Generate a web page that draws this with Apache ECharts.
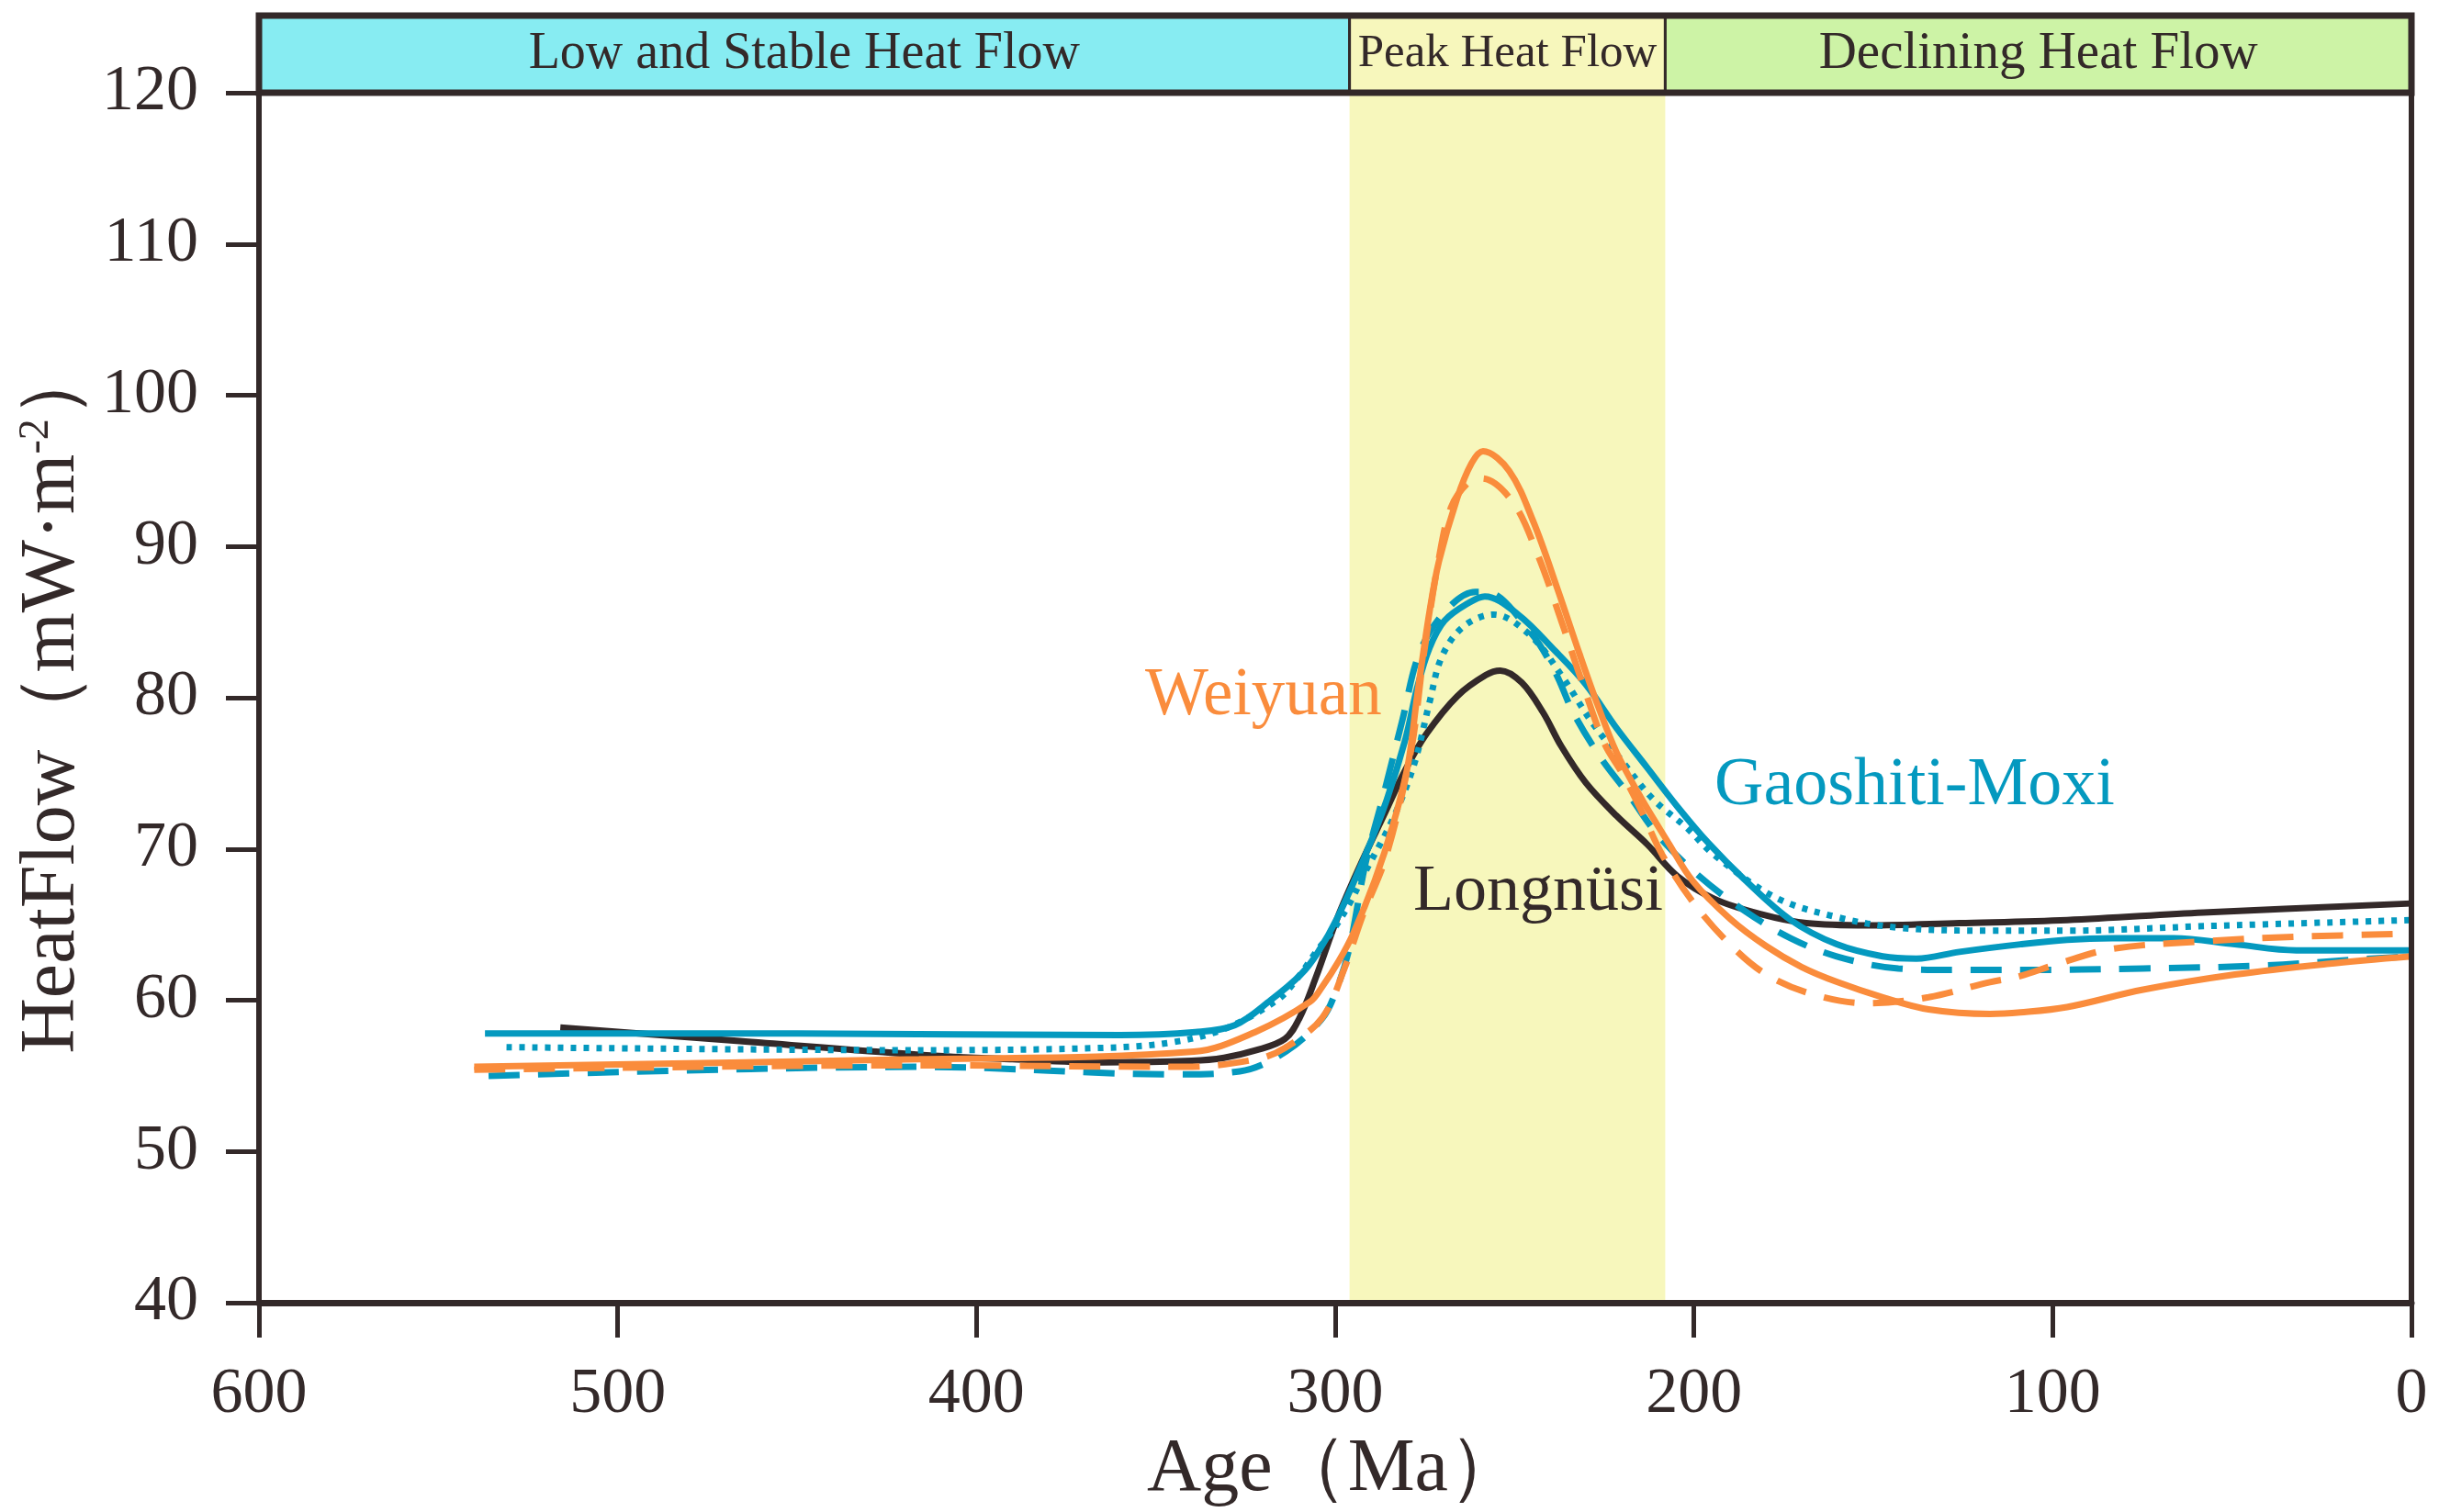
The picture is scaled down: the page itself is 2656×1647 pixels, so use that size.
<!DOCTYPE html>
<html>
<head>
<meta charset="utf-8">
<script src="https://cdn.jsdelivr.net/npm/echarts@6/dist/echarts.min.js"></script>
<style>
html,body{margin:0;padding:0;background:#fff;}
#main{width:2656px;height:1647px;}
</style>
</head>
<body>
<div id="main"></div>
<script>
// age (Ma), heat flow (mW/m2)
var longnusi = [[516,58.2],[466,57.3],[416,56.4],[390,56.1],[365,55.9],[340,56.0],[331,56.2],[322,56.7],[314,57.45],[310,58.8],[305.4,61.5],[299.3,65.5],[292.5,69.2],[286.5,72.2],[280.5,75.2],[274.6,77.6],[266,80.1],[258,81.5],[254,81.8],[248,81.0],[242,79.0],[237,76.8],[230.2,74.4],[221.6,72.2],[213,70.3],[204.6,68.2],[194.3,66.7],[181.5,65.7],[168.7,65.1],[151.6,64.95],[126,65.1],[96,65.3],[58,65.8],[0,66.4]];

var gmSolid = [[537,57.8],[450,57.8],[360,57.7],[339,57.9],[328,58.35],[318,60.0],[309.6,61.7],[305,63.1],[299.3,65.5],[291.6,69.6],[285.7,73.2],[280.5,77.2],[277.1,80.7],[273.7,83.3],[269.5,85.1],[262.6,86.3],[258.3,86.7],[249,85.5],[238.7,83.1],[230.2,80.9],[221.6,78.0],[213.1,75.4],[204.6,72.8],[196,70.4],[186,68.0],[173,65.3],[160.2,63.7],[147.4,62.9],[138,62.75],[126,63.2],[109,63.7],[96,64.0],[83.4,64.1],[66.3,64.1],[49.2,63.7],[32.1,63.3],[0,63.3]];

var gmDashed = [[536,55.0],[416,55.6],[344,55.1],[326.6,55.3],[313.8,56.6],[303.6,58.8],[299.5,60.8],[296,63.5],[291.6,69.0],[286.5,73.6],[281.4,78.4],[276.3,83.1],[268.6,85.9],[260.9,87.0],[258,87.0],[245.5,84.3],[238.7,81.7],[233.6,79.0],[225.9,76.0],[218.2,73.6],[210,70.9],[199,68.3],[185.8,65.9],[173,64.1],[160.2,62.9],[143,62.1],[126,62.0],[109,62.0],[74.8,62.1],[40.7,62.3],[15.1,62.7],[0,62.9]];

var gmDotted = [[531,56.9],[416,56.7],[365,56.85],[346,57.2],[331,58.1],[316,60.05],[310.4,61.5],[305,63.3],[301,64.5],[296,66.4],[291.6,68.5],[283.9,72.0],[278,75.6],[273.7,79.7],[270.3,82.7],[264.3,84.7],[255.8,85.5],[245.5,84.1],[237,81.5],[228.5,78.4],[220,75.8],[211.4,73.3],[202,71.4],[194.3,69.6],[177.3,66.8],[160.2,65.5],[143,64.8],[117.5,64.6],[96,64.6],[57.7,64.9],[0,65.3]];

var wySolid = [[540,55.6],[416,56.1],[339.4,56.6],[322.3,57.9],[307,59.9],[303.6,60.9],[299,62.6],[295,64.4],[289,67.9],[283.9,71.6],[279.7,75.6],[277.1,80.2],[273.7,85.7],[271.1,89.0],[266,93.2],[262,95.5],[258.8,96.3],[251.5,95.0],[244.7,91.6],[237.9,87.1],[231.9,82.9],[226.8,79.5],[221.6,76.4],[214.8,73.4],[207.1,70.4],[200.4,67.9],[190,65.4],[180,63.6],[170,62.2],[160,61.2],[147.4,60.2],[134.6,59.4],[117.5,59.1],[109,59.2],[96,59.55],[74.8,60.7],[49.2,61.7],[23.6,62.4],[0,62.9]];

var wyDashed = [[540,55.4],[416,55.7],[342,55.6],[322,56.1],[314,56.85],[303.6,58.85],[297.6,62.0],[292.5,65.5],[285.7,69.6],[278.8,76.6],[275.4,82.7],[271.1,89.2],[267.7,92.6],[263,94.2],[259.2,94.5],[250.7,93.0],[243.8,89.6],[237,85.1],[231,80.9],[225,77.0],[220,75.0],[214.8,72.6],[208.8,69.6],[200.3,66.5],[190,63.7],[179.8,61.7],[167,60.4],[151.6,59.8],[134.6,60.2],[117.5,61.2],[109,61.6],[98.7,62.4],[83.4,63.4],[57.7,63.9],[32.1,64.2],[0,64.4]];

var stages = [
  ['Low and Stable Heat Flow', 600, 296, '#87ECF2', 56],
  ['Peak Heat Flow', 296, 208, '#F7F7BC', 51],
  ['Declining Heat Flow', 208, 0, '#CDF3A6', 57]
];
var peakBand = [296, 208];

var ink = '#332929';
var teal = '#0499BF';
var orange = '#FA8C3C';
var font = '"Liberation Serif", "Times New Roman", serif';

var chart = echarts.init(document.getElementById('main'));

function line(name, data, color, dash){
  return {
    name: name,
    type: 'line',
    data: data,
    smooth: 0.35,
    symbol: 'none',
    z: 3,
    lineStyle: {color: color, width: 7, type: dash || 'solid', cap: 'butt'}
  };
}

chart.setOption({
  backgroundColor: '#fff',
  animation: false,
  grid: [
    {left: 282, right: 30, top: 101, bottom: 226, show: true, borderColor: ink, borderWidth: 6, z: 10},
    {left: 282, right: 30, top: 17, height: 84, show: true, borderColor: ink, borderWidth: 7, z: 10}
  ],
  xAxis: [{
    type: 'value', min: 0, max: 600, interval: 100, inverse: true, gridIndex: 0,
    name: 'Age（Ma）', nameLocation: 'middle', nameGap: 132,
    nameTextStyle: {fontFamily: font, fontSize: 82, color: ink},
    axisLine: {show: true, onZero: false, lineStyle: {color: ink, width: 7}},
    axisTick: {show: true, inside: false, length: 38, lineStyle: {color: ink, width: 5}},
    axisLabel: {margin: 66, fontFamily: font, fontSize: 70, color: ink},
    splitLine: {show: false}
  }, {
    type: 'value', min: 0, max: 600, inverse: true, gridIndex: 1, show: false
  }],
  yAxis: [{
    type: 'value', min: 40, max: 120, interval: 10, gridIndex: 0,
    name: 'HeatFlow（mW·m{sup|-2}）', nameLocation: 'middle', nameGap: 182, nameRotate: 90,
    nameTextStyle: {fontFamily: font, fontSize: 84, color: ink,
      rich: {sup: {fontFamily: font, fontSize: 46, color: ink, padding: [0, 0, 36, 0]}}},
    axisLine: {show: true, onZero: false, lineStyle: {color: ink, width: 6}},
    axisTick: {show: true, inside: false, length: 36, lineStyle: {color: ink, width: 5}},
    axisLabel: {margin: 66, fontFamily: font, fontSize: 70, color: ink},
    splitLine: {show: false}
  }, {
    type: 'value', min: 0, max: 1, gridIndex: 1, show: false
  }],
  series: [
    {
      name: 'band', type: 'line', data: [], xAxisIndex: 0, yAxisIndex: 0, z: 1,
      markArea: {silent: true, itemStyle: {color: '#F7F7BC'}, data: [[{xAxis: peakBand[0]}, {xAxis: peakBand[1]}]]}
    },
    {
      name: 'stages', type: 'line', data: [], xAxisIndex: 1, yAxisIndex: 1, z: 1,
      markArea: {
        silent: true,
        data: stages.map(function(s){
          return [{
            name: s[0], xAxis: s[1],
            itemStyle: {color: s[3], borderColor: ink, borderWidth: 3},
            label: {position: 'inside', fontFamily: font, fontSize: s[4], color: ink}
          }, {xAxis: s[2]}];
        })
      }
    },
    line('Longnüsi', longnusi, ink),
    line('Gaoshiti-Moxi', gmSolid, teal),
    line('Gaoshiti-Moxi dashed', gmDashed, teal, [34, 20]),
    line('Gaoshiti-Moxi dotted', gmDotted, teal, [6, 8]),
    line('Weiyuan', wySolid, orange),
    line('Weiyuan dashed', wyDashed, orange, [34, 20])
  ],
  graphic: [
    {type: 'text', x: 1247, y: 759, z: 20, style: {text: 'Weiyuan', fill: orange, font: '73px ' + font, verticalAlign: 'middle'}},
    {type: 'text', x: 1867, y: 857, z: 20, style: {text: 'Gaoshiti-Moxi', fill: teal, font: '74px ' + font, verticalAlign: 'middle'}},
    {type: 'text', x: 1539, y: 972, z: 20, style: {text: 'Longnüsi', fill: ink, font: '72px ' + font, verticalAlign: 'middle'}}
  ]
});
</script>
</body>
</html>
